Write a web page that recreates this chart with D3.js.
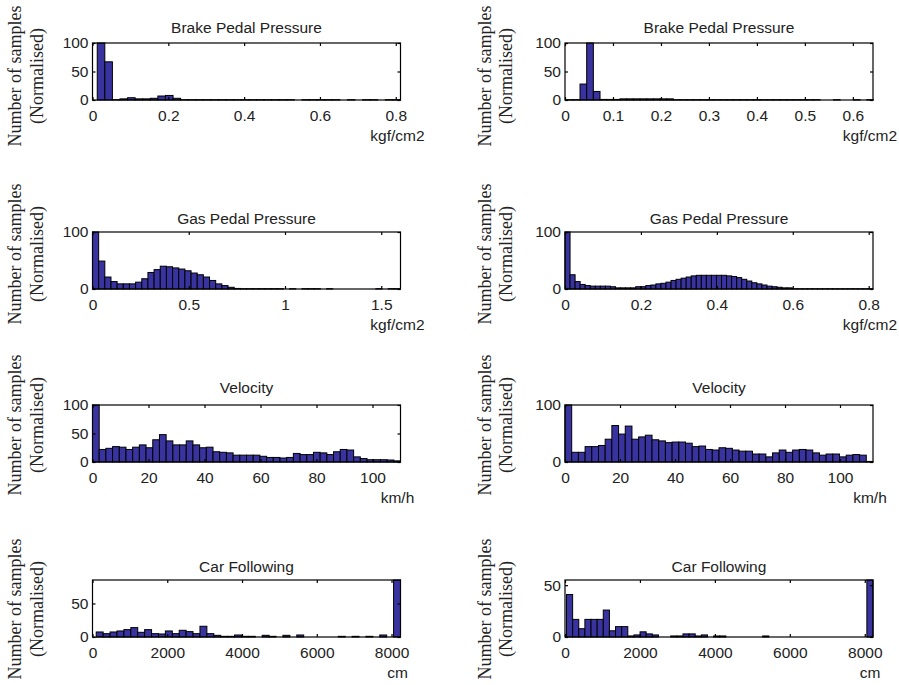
<!DOCTYPE html>
<html>
<head>
<meta charset="utf-8">
<script src="https://cdn.jsdelivr.net/npm/d3@7"></script>
<style>
  body { margin: 0; background: #fff; }
  svg { display: block; }
</style>
</head>
<body>
<svg id="chart" width="899" height="685"></svg>
<script>
// Normalised histograms of driving signals (two drivers side by side).
// Each histogram: bin counts, first bin edge, bin width.

const brakeLeftValues = [100, 67, 0.5, 2, 4, 2, 2, 3, 7, 8, 3,
  0.5, 0.5, 0.5, 0.5, 0.5, 0.5, 0.5, 0.5, 0.5, 0.5, 0.5, 0.5, 0.5, 0.5, 0.5,
  0, 0.5, 0.5, 0.5, 0.5, 0.5, 0, 0.5, 0, 0.5, 0.5, 0, 0.5, 0.5];
const brakeLeftBins = { start: 0.0125, width: 0.02 };

const brakeRightValues = [0.5, 0.5, 28, 100, 15, 1, 1, 1, 2, 2, 2, 2, 2, 2, 2, 2,
  0.5, 0.5, 0.5, 0.5, 0.5, 0.5, 0.5, 0.5, 0.5, 0.5, 0.5, 0.5, 0.5, 0.5, 0.5, 0.5,
  0.5, 0.5, 0.5, 0.5, 0.5, 0.5, 0, 0, 0.5, 0, 0, 0.5, 0, 0.5];
const brakeRightBins = { start: 0.0035, width: 0.0139 };

const gasLeftValues = [100, 49, 21, 13, 9, 9, 9, 12, 18, 29, 34, 40, 39, 37, 35, 32,
  28, 25, 21, 15, 9, 6, 3, 1, 0.5, 0.5, 0.5, 0.5, 0.5, 0.5, 0.5, 0, 0.5, 0,
  0.5, 0.5, 0.5, 0, 0.5, 0, 0, 0, 0, 0, 0, 0, 0.5, 0, 0.5, 0.5];
const gasLeftBins = { start: 0, width: 0.032 };

const gasRightValues = [100, 25, 13, 8, 6, 5, 5, 5, 5, 4, 2, 2, 2, 2, 4, 4, 6, 7, 9, 10,
  12, 15, 17, 19, 21, 23, 24, 24, 24, 24, 24, 24, 23, 22, 20, 17, 14, 11, 9, 7,
  5, 4, 3, 2, 2, 0.4, 0.4, 0.4, 0.4, 0.4, 0.4, 0.4, 0.4, 0.4, 0.4, 0.4, 0.4, 0.4,
  0.4, 0.4, 0.4];
const gasRightBins = { start: 0, width: 0.0133 };

const velocityLeftValues = [100, 22, 24, 27, 26, 22, 26, 30, 25, 39, 48, 37, 30, 30,
  37, 30, 25, 26, 18, 17, 16, 12, 12, 12, 12, 10, 8, 8, 7, 8, 15, 13, 13, 17, 16,
  13, 18, 22, 21, 9, 6, 4, 4, 4, 3.5, 2];
const velocityLeftBins = { start: 0, width: 110 / 46 };

const velocityRightValues = [100, 17, 17, 27, 27, 29, 40, 64, 49, 63, 40, 44, 47, 39,
  37, 34, 35, 35, 33, 27, 28, 22, 21, 25, 24, 21, 19, 19, 14, 14, 9, 16, 21, 17, 21,
  22, 21, 16, 12, 14, 14, 9, 12, 13, 12, 1];
const velocityRightBins = { start: 0, width: 112 / 46 };

const carLeftValues = [7.5, 5, 7.5, 9, 11, 14, 7, 11, 5, 4.5, 9, 5, 10, 8, 5, 16, 5,
  2.5, 1, 1, 3, 1, 1, 0, 2.5, 1, 0, 2.5, 0, 3, 0, 0, 0, 0, 0, 1, 0, 1, 0, 1, 0, 3,
  0, 85];
const carLeftBins = { start: 100, width: 185 };

const carRightValues = [41, 17, 8, 17, 17, 17, 26, 6, 10, 10, 1, 2, 5, 3, 2, 0, 0, 1,
  1, 3, 3, 1, 2, 0, 1, 1, 0, 0, 0, 0, 0, 0, 1, 0, 0, 0, 0, 0, 0, 0, 0, 0, 0, 0, 0,
  0, 0, 0, 0, 55];
const carRightBins = { start: 40, width: 163.6 };

// Axis limits and tick labels
const pressureTicksA = [0, 0.2, 0.4, 0.6, 0.8];
const pressureTicksB = [0, 0.1, 0.2, 0.3, 0.4, 0.5, 0.6];
const gasTicksLeft = [0, 0.5, 1, 1.5];
const velocityTicks = [0, 20, 40, 60, 80, 100];
const distanceTicks = [0, 2000, 4000, 6000, 8000];

const titles = ["Brake Pedal Pressure", "Gas Pedal Pressure", "Velocity", "Car Following"];
const units = ["kgf/cm2", "kgf/cm2", "km/h", "cm"];
const yLabelLines = ["Number of samples", "(Normalised)"];

const panels = [
  { row: 0, col: 0, values: brakeLeftValues, bins: brakeLeftBins, xMax: 0.8125, xTicks: pressureTicksA, yMax: 100, yTicks: [0, 50, 100] },
  { row: 0, col: 1, values: brakeRightValues, bins: brakeRightBins, xMax: 0.642, xTicks: pressureTicksB, yMax: 100, yTicks: [0, 50, 100] },
  { row: 1, col: 0, values: gasLeftValues, bins: gasLeftBins, xMax: 1.6, xTicks: gasTicksLeft, yMax: 100, yTicks: [0, 100] },
  { row: 1, col: 1, values: gasRightValues, bins: gasRightBins, xMax: 0.8113, xTicks: pressureTicksA, yMax: 100, yTicks: [0, 100] },
  { row: 2, col: 0, values: velocityLeftValues, bins: velocityLeftBins, xMax: 110, xTicks: velocityTicks, yMax: 100, yTicks: [0, 50, 100] },
  { row: 2, col: 1, values: velocityRightValues, bins: velocityRightBins, xMax: 112, xTicks: velocityTicks, yMax: 100, yTicks: [0, 100] },
  { row: 3, col: 0, values: carLeftValues, bins: carLeftBins, xMax: 8240, xTicks: distanceTicks, yMax: 85, yTicks: [0, 50] },
  { row: 3, col: 1, values: carRightValues, bins: carRightBins, xMax: 8220, xTicks: distanceTicks, yMax: 55, yTicks: [0, 50] }
];

// Layout
const colLeft = [92.5, 565];
const boxWidth = 308;
const rowTop = [43, 232, 405, 580];
const boxHeight = 57;
const titleY = [27, 218, 387, 566];
const yLabelCenter = [76, 254, 425, 609];
const yLabelX = [[15, 37], [485, 506]];

const sans = "'Liberation Sans', Arial, sans-serif";
const serif = "'Liberation Serif', 'Times New Roman', serif";
const textColor = "#222";
const barColor = "#38339f";

const svg = d3.select("#chart");

panels.forEach(p => {
  const x0 = colLeft[p.col];
  const y0 = rowTop[p.row];
  const g = svg.append("g").attr("transform", `translate(${x0},${y0})`);

  const x = d3.scaleLinear().domain([0, p.xMax]).range([0, boxWidth]);
  const y = d3.scaleLinear().domain([0, p.yMax]).range([boxHeight, 0]);

  // bars
  g.append("g").selectAll("rect")
    .data(p.values.map((v, i) => ({ v, lo: p.bins.start + i * p.bins.width }))
      .filter(d => d.v > 0))
    .join("rect")
    .attr("x", d => x(d.lo))
    .attr("width", d => x(d.lo + p.bins.width) - x(d.lo))
    .attr("y", d => y(d.v))
    .attr("height", d => y(0) - y(d.v))
    .attr("fill", barColor)
    .attr("stroke", "#000")
    .attr("stroke-width", 1);

  // axes with inward ticks on all four sides
  const fmt = d => String(d);
  const bottom = g.append("g").attr("transform", `translate(0,${boxHeight})`)
    .call(d3.axisBottom(x).tickValues(p.xTicks).tickFormat(fmt).tickSizeInner(-3).tickSizeOuter(0).tickPadding(10));
  const left = g.append("g")
    .call(d3.axisLeft(y).tickValues(p.yTicks).tickFormat(fmt).tickSizeInner(-3).tickSizeOuter(0).tickPadding(4));
  const top = g.append("g")
    .call(d3.axisTop(x).tickValues(p.xTicks).tickFormat("").tickSizeInner(-3).tickSizeOuter(0));
  const right = g.append("g").attr("transform", `translate(${boxWidth},0)`)
    .call(d3.axisRight(y).tickValues(p.yTicks).tickFormat("").tickSizeInner(-3).tickSizeOuter(0));

  [bottom, left, top, right].forEach(a => {
    a.select(".domain").remove();
    a.selectAll("line").attr("stroke", "#000").attr("stroke-width", 1.2);
    a.selectAll("text")
      .attr("fill", textColor)
      .style("font-family", sans)
      .style("font-size", "15.5px");
  });

  // frame
  g.append("rect")
    .attr("x", 0).attr("y", 0)
    .attr("width", boxWidth).attr("height", boxHeight)
    .attr("fill", "none").attr("stroke", "#000").attr("stroke-width", 1.2);

  // title
  svg.append("text")
    .attr("x", x0 + boxWidth / 2)
    .attr("y", titleY[p.row])
    .attr("text-anchor", "middle")
    .attr("dominant-baseline", "central")
    .attr("fill", textColor)
    .style("font-family", sans)
    .style("font-size", "15.5px")
    .text(titles[p.row]);

  // unit label under the right end of the x axis
  svg.append("text")
    .attr("x", x0 + boxWidth - 3)
    .attr("y", y0 + boxHeight + 35)
    .attr("text-anchor", "middle")
    .attr("dominant-baseline", "central")
    .attr("fill", textColor)
    .style("font-family", sans)
    .style("font-size", "15.5px")
    .text(units[p.row]);

  // two-line rotated y label
  yLabelLines.forEach((line, k) => {
    svg.append("text")
      .attr("transform", `translate(${yLabelX[p.col][k]},${yLabelCenter[p.row]}) rotate(-90)`)
      .attr("text-anchor", "middle")
      .attr("dominant-baseline", "central")
      .attr("fill", textColor)
      .style("font-family", serif)
      .style("font-size", "18px")
      .text(line);
  });
});
</script>
</body>
</html>
